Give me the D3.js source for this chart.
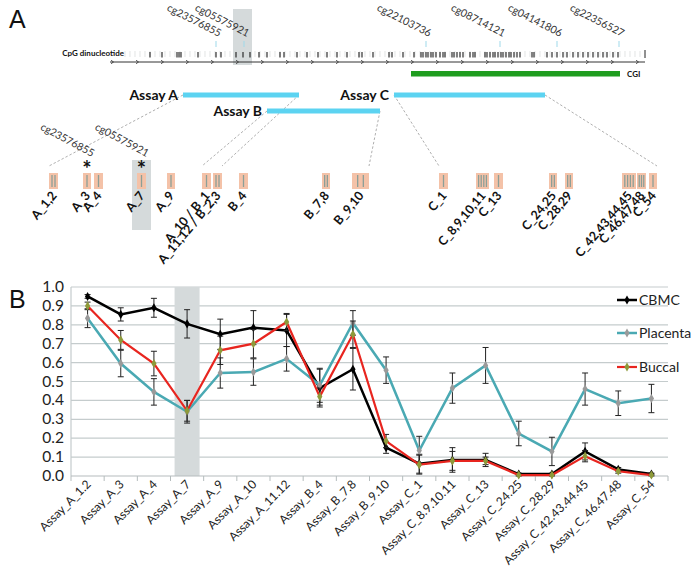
<!DOCTYPE html>
<html>
<head>
<meta charset="utf-8">
<script src="https://cdn.jsdelivr.net/npm/d3@7"></script>
<style>
  body{margin:0;background:#fff}
  text{font-family:Lato,"Open Sans",sans-serif;fill:#111}
</style>
</head>
<body>
<svg id="fig" width="700" height="580"></svg>
<script>
// ---------- panel A : region map (positions in bp) ----------
const cpgSites = [80,104,134,138,142,176,212,222,252,266,280,298,314,340,348,374,394,416,434,454,474,498,504,526,558,564,586,
    608,622,626,632,636,642,646,652,660,666,670,684,688,694,700,706,720,726,730,750,754,760,766,770,776,782,786,792,798,802,808,814,820,
    844,848,874,884,894,906,914,926,936,946,956,966,976,986,994,1006,1016];
const probeNames = ['cg23576855','cg05575921','cg22103736','cg08714121','cg04141806','cg22356527'];
const probePos = [212,268,632,780,894,1018];
const highlightProbe = 'cg05575921';
const cgiRange = [602,1020];
const assayNames = ['Assay A','Assay B','Assay C'];
const assayStart = [146,314,568];
const assayEnd = [378,540,870];
const assayRow = [0,1,0];

// expanded CpG boxes (schematic units)
const boxLabels = ['A_1,2','A_3','A_4','A_7','A_9','A_10 / B_1','A_11,12 / B_2,3','B_4','B_7,8','B_9,10',
    'C_1','C_8,9,10,11','C_13','C_24,25','C_28,29','C_42,43,44,45','C_46,47,48','C_54'];
const boxStart = [4,38,49,92,122,157,168,194,277,307,394,431,449,504,520,577,592,604];
const boxWidth = [9,8,9,9,8,9,9,9,8,17,9,13,9,8,8,14,9,8];
const boxSites = [2,1,1,1,1,1,2,1,2,2,1,4,1,2,2,4,3,1];
const assayFirstBox = [0,5,10];
const assayLastBox = [6,9,17];
const starBoxes = ['A_3','A_7'];
const starProbes = ['cg23576855','cg05575921'];
const highlightBox = 'A_7';

// ---------- panel B : methylation per assay ----------
const categories = ['Assay_A_1.2','Assay_A_3','Assay_A_4','Assay_A_7','Assay_A_9','Assay_A_10','Assay_A_11.12',
    'Assay_B_4','Assay_B_7.8','Assay_B_9.10','Assay_C_1','Assay_C_8.9.10.11','Assay_C_13','Assay_C_24.25',
    'Assay_C_28.29','Assay_C_42.43.44.45','Assay_C_46.47.48','Assay_C_54'];
const cbmc = [0.95,0.855,0.89,0.805,0.75,0.785,0.77,0.465,0.565,0.15,0.065,0.085,0.085,0.01,0.01,0.13,0.035,0.01];
const cbmcErr = [0.01,0.035,0.05,0.075,0.08,0.09,0.085,0.1,0.11,0.03,0.05,0.065,0.035,0.005,0.005,0.045,0.01,0.005];
const placenta = [0.835,0.595,0.445,0.34,0.545,0.55,0.62,0.48,0.81,0.56,0.135,0.465,0.585,0.225,0.13,0.46,0.385,0.41];
const placentaErr = [0.05,0.07,0.07,0.06,0.08,0.07,0.065,0.09,0.065,0.07,0.075,0.08,0.095,0.065,0.075,0.085,0.065,0.075];
const buccal = [0.9,0.72,0.595,0.345,0.665,0.70,0.815,0.42,0.75,0.185,0.06,0.08,0.08,0.005,0.005,0.105,0.025,0.005];
const buccalErr = [0.02,0.05,0.065,0.055,0.075,0.075,0.045,0.045,0.07,0.035,0.05,0.05,0.02,0.005,0.005,0.03,0.01,0.005];
const seriesNames = ['CBMC','Placenta','Buccal'];
const highlightCat = 'Assay_A_7';

const svg = d3.select('#fig');

// ================= Panel A =================
let gA = svg.append('g').attr('class','panelA');
let gx = d3.scaleLinear().domain([0,1070]).range([110,645]);
let trackY = 62, rowY = [95,111];

gA.append('text').text('A').attr('x',9).attr('y',28)
    .style('font-family','"Liberation Sans",Arial,sans-serif').style('font-size','25px');

let hp = probePos[probeNames.indexOf(highlightProbe)];
gA.append('rect').attr('x',gx(hp)-11).attr('y',9).attr('width',19).attr('height',56).attr('fill','#d5dadb');

gA.append('text').text('CpG dinucleotide').attr('x',124).attr('y',56)
    .attr('text-anchor','end').style('font-size','8px').style('font-weight','bold');

// faint background ticks, then CpG sites
gA.selectAll('.minor').data(gx.ticks(107).filter(d=>d>25 && d<1070)).enter().append('line')
    .attr('class','minor').attr('x1',d=>gx(d)).attr('x2',d=>gx(d)).attr('y1',51).attr('y2',57)
    .attr('stroke','#d6d9d9').attr('stroke-width',0.7);
gA.selectAll('.cpg').data(cpgSites).enter().append('line')
    .attr('class','cpg').attr('x1',d=>gx(d)).attr('x2',d=>gx(d)).attr('y1',52).attr('y2',57.5)
    .attr('stroke','#1a1a1a').attr('stroke-width',1.1);
gA.append('line').attr('x1',gx(1070)).attr('x2',gx(1070)).attr('y1',50).attr('y2',58).attr('stroke','#222');

gA.append('line').attr('x1',gx(0)).attr('x2',gx(1070)).attr('y1',trackY).attr('y2',trackY)
    .attr('stroke','#333').attr('stroke-width',1);
gA.selectAll('.chev').data(gx.ticks(22).filter(d=>d<1070)).enter().append('path')
    .attr('class','chev')
    .attr('d',d=>`M${gx(d)+1},${trackY-1.8}L${gx(d)+3.5},${trackY}L${gx(d)+1},${trackY+1.8}`)
    .attr('fill','none').attr('stroke','#333').attr('stroke-width',0.8);

// probes
gA.selectAll('.ptick').data(probePos).enter().append('line')
    .attr('x1',d=>gx(d)).attr('x2',d=>gx(d)).attr('y1',41).attr('y2',47)
    .attr('stroke','#9fd9ea').attr('stroke-width',1);
gA.selectAll('.plab').data(probeNames).enter().append('text')
    .attr('transform',(d,i)=>`translate(${gx(probePos[i])+3},37) rotate(27)`)
    .attr('text-anchor','end').style('font-size','10.5px').style('fill','#333').text(d=>d);

// CGI
gA.append('rect').attr('x',gx(cgiRange[0])).attr('y',71).attr('width',gx(cgiRange[1])-gx(cgiRange[0])).attr('height',5.5)
    .attr('fill','#1f9d1f');
gA.append('text').text('CGI').attr('x',gx(cgiRange[1])+7).attr('y',77)
    .style('font-size','8px').style('font-weight','bold');

// CpG boxes row
let bx = d3.scaleLinear().domain([0,620]).range([45,665]);
let boxY = 173, boxH = 16;
let bc = i => bx(boxStart[i]) + (bx(boxStart[i]+boxWidth[i])-bx(boxStart[i]))/2;

let hb = boxLabels.indexOf(highlightBox);
gA.append('rect').attr('x',bc(hb)-9.5).attr('y',160).attr('width',19).attr('height',70).attr('fill','#d5dadb');

// dashed connectors assay -> boxes
assayNames.forEach((a,i)=>{
    let f = assayFirstBox[i], l = assayLastBox[i];
    [[gx(assayStart[i]),bx(boxStart[f])],[gx(assayEnd[i]),bx(boxStart[l]+boxWidth[l])]].forEach(p=>{
        gA.append('line').attr('x1',p[0]).attr('y1',rowY[assayRow[i]]).attr('x2',p[1]).attr('y2',166)
            .attr('stroke','#9a9a9a').attr('stroke-width',0.8).attr('stroke-dasharray','2.5,2');
    });
});

// assay bars
gA.selectAll('.assay').data(assayNames).enter().append('rect')
    .attr('x',(d,i)=>gx(assayStart[i])).attr('y',(d,i)=>rowY[assayRow[i]]-2.5)
    .attr('width',(d,i)=>gx(assayEnd[i])-gx(assayStart[i])).attr('height',5)
    .attr('fill','#5cd3f1');
gA.selectAll('.alab').data(assayNames).enter().append('text')
    .attr('x',(d,i)=>gx(assayStart[i])-5).attr('y',(d,i)=>rowY[assayRow[i]]+5)
    .attr('text-anchor','end').style('font-size','14px').style('font-weight','bold').text(d=>d);

let box = gA.selectAll('.box').data(boxLabels).enter().append('g').attr('class','box');
box.append('rect').attr('x',(d,i)=>bx(boxStart[i])).attr('y',boxY)
    .attr('width',(d,i)=>bx(boxStart[i]+boxWidth[i])-bx(boxStart[i])).attr('height',boxH)
    .attr('fill','#f4c2a8');
box.each(function(d,i){
    let n = boxSites[i], x0 = bx(boxStart[i]), w = bx(boxStart[i]+boxWidth[i])-x0;
    for (let k=0;k<n;k++){
        let xx = x0 + w*(k+1)/(n+1);
        d3.select(this).append('line').attr('x1',xx).attr('x2',xx).attr('y1',boxY+2).attr('y2',boxY+boxH-2)
            .attr('stroke','#8c9f97').attr('stroke-width',1.3);
    }
});
box.append('text')
    .attr('transform',(d,i)=>`translate(${bc(i)+4},196) rotate(-50)`)
    .attr('text-anchor','end').style('font-size','12.5px').style('font-weight','bold').text(d=>d);

// asterisks and probe names over boxes
starBoxes.forEach((b,i)=>{
    let j = boxLabels.indexOf(b);
    gA.append('text').text('*').attr('x',bc(j)).attr('y',177).attr('text-anchor','middle')
        .style('font-size','22px').style('font-weight','bold');
    gA.append('text').text(starProbes[i]).attr('text-anchor','end')
        .attr('transform',`translate(${bc(j)+5},157) rotate(28)`).style('font-size','10.5px').style('fill','#333');
});

// ================= Panel B =================
let gB = svg.append('g').attr('class','panelB');
let x = d3.scaleBand().domain(categories).range([71,668]);
let y = d3.scaleLinear().domain([0,1]).range([476,287]);
let cx = d => x(d) + x.bandwidth()/2;

gB.append('text').text('B').attr('x',9).attr('y',308)
    .style('font-family','"Liberation Sans",Arial,sans-serif').style('font-size','25px');

gB.selectAll('.grid').data(y.ticks(10).filter(t=>t>0)).enter().append('line')
    .attr('x1',71).attr('x2',668).attr('y1',d=>y(d)).attr('y2',d=>y(d))
    .attr('stroke','#c5cccd').attr('stroke-width',1.2);
gB.append('rect').attr('x',cx(highlightCat)-12.5).attr('y',y(1)).attr('width',25).attr('height',y(0)-y(1))
    .attr('fill','#d5dadb');
gB.append('line').attr('x1',71).attr('x2',71).attr('y1',y(1)).attr('y2',y(0)).attr('stroke','#c5cccd').attr('stroke-width',1.2);
gB.append('line').attr('x1',71).attr('x2',668).attr('y1',y(0)).attr('y2',y(0)).attr('stroke','#b5bcbd').attr('stroke-width',1.2);
gB.selectAll('.xt').data(categories.concat(['end'])).enter().append('line')
    .attr('x1',(d,i)=>71+i*x.step()).attr('x2',(d,i)=>71+i*x.step()).attr('y1',y(0)).attr('y2',y(0)+5)
    .attr('stroke','#b5bcbd');

gB.selectAll('.yl').data(y.ticks(10)).enter().append('text')
    .attr('x',64).attr('y',d=>y(d)+5).attr('text-anchor','end')
    .style('font-size','15.5px').style('fill','#222').text(d=>d.toFixed(1));
gB.selectAll('.xl').data(categories).enter().append('text')
    .attr('transform',d=>`translate(${cx(d)+4},485) rotate(-45)`)
    .attr('text-anchor','end').style('font-size','12px').style('fill','#222').text(d=>d);

let series = [
    {name:seriesNames[0], v:cbmc, e:cbmcErr, line:'#000000', mark:'#000000', w:2.5},
    {name:seriesNames[1], v:placenta, e:placentaErr, line:'#4aa9b3', mark:'#9a9a9a', w:2.5},
    {name:seriesNames[2], v:buccal, e:buccalErr, line:'#e8251f', mark:'#8e9a3a', w:2.2}
];
let line = d3.line().x((d,i)=>cx(categories[i])).y(d=>y(d));
let diamond = d3.symbol().type(d3.symbolDiamond).size(24);

series.forEach(s=>{
    let g = gB.append('g');
    categories.forEach((c,i)=>{
        let x0 = cx(c), y1 = y(s.v[i]+s.e[i]), y2 = y(Math.max(0,s.v[i]-s.e[i]));
        g.append('line').attr('x1',x0).attr('x2',x0).attr('y1',y1).attr('y2',y2).attr('stroke','#222').attr('stroke-width',1);
        [y1,y2].forEach(yy=>g.append('line').attr('x1',x0-3).attr('x2',x0+3).attr('y1',yy).attr('y2',yy)
            .attr('stroke','#222').attr('stroke-width',1));
    });
    g.append('path').datum(s.v).attr('d',line).attr('fill','none').attr('stroke',s.line).attr('stroke-width',s.w);
    g.selectAll('.m').data(s.v).enter().append('path')
        .attr('transform',(d,i)=>`translate(${cx(categories[i])},${y(d)})`).attr('d',diamond).attr('fill',s.mark);
});

// legend
let lg = gB.selectAll('.lg').data(series).enter().append('g')
    .attr('transform',(d,i)=>`translate(617,${[300,333,367][i]})`);
lg.append('line').attr('x1',0).attr('x2',20).attr('stroke',d=>d.line).attr('stroke-width',d=>d.w);
lg.append('path').attr('transform','translate(10,0)').attr('d',diamond).attr('fill',d=>d.mark);
lg.append('text').attr('x',22).attr('y',5).style('font-size','14px').style('fill','#222').text(d=>d.name);
</script>
</body>
</html>
